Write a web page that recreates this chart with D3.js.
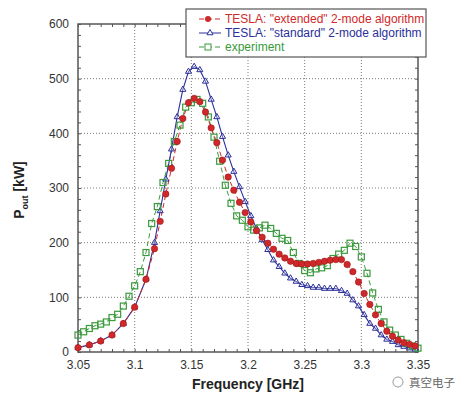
<!DOCTYPE html>
<head>
  <meta charset="utf-8" />
  <script src="https://d3js.org/d3.v7.min.js"></script>
  <style>
    body { margin: 0; background: #fff; }
    text { font-family: "Liberation Sans", Arial, sans-serif; }
  </style>
</head>
<body>
  <script>
    // data
    var extFreq = [3.05, 3.06, 3.07, 3.08, 3.09, 3.10, 3.11,
      3.1175, 3.1225, 3.1275, 3.1325, 3.1375, 3.1425, 3.1475, 3.1525, 3.1575, 3.1625,
      3.1675, 3.1725, 3.1775, 3.1825, 3.1875, 3.1925, 3.1975, 3.2025, 3.2075, 3.2125,
      3.2175, 3.2225, 3.2275, 3.2325, 3.2375, 3.2425, 3.2475, 3.2525, 3.2575, 3.2625,
      3.2675, 3.2725, 3.2775, 3.2825, 3.2875, 3.2925, 3.2975, 3.3025, 3.3075, 3.3125,
      3.3175, 3.3225, 3.3275, 3.3325, 3.3375, 3.3425, 3.3475];
    var extended = [8, 13, 20, 31, 52, 82, 133,
      189, 239, 289, 336, 385, 427, 456, 464, 458, 439,
      410, 383, 351, 320, 296, 274, 255, 238, 222, 210,
      199, 188, 179, 172, 166, 162, 161, 161, 162, 164,
      166, 168, 169, 169, 160, 147, 128, 107, 87, 68,
      52, 38, 29, 22, 17, 14, 11];
    var standard = [8, 13, 20, 31, 52, 82, 133,
      200, 258, 316, 371, 430, 480, 513, 522, 516, 495,
      462, 430, 394, 360, 330, 302, 275, 249, 226, 205,
      187, 168, 156, 144, 135, 129, 123, 121, 118, 118,
      116, 116, 116, 112, 107, 95, 84, 68, 52, 43,
      31, 23, 19, 13, 10, 7, 5];
    var expFreq = [3.050, 3.055, 3.060, 3.065, 3.070, 3.075, 3.080, 3.085, 3.090, 3.095,
      3.100, 3.105, 3.110, 3.115, 3.120, 3.125, 3.130, 3.135, 3.140, 3.145,
      3.150, 3.155, 3.160, 3.165, 3.170, 3.175, 3.180, 3.185, 3.190, 3.195,
      3.200, 3.205, 3.210, 3.215, 3.220, 3.225, 3.230, 3.235, 3.240, 3.245,
      3.250, 3.255, 3.260, 3.265, 3.270, 3.275, 3.280, 3.285, 3.290, 3.295,
      3.300, 3.305, 3.310, 3.315, 3.320, 3.325, 3.330, 3.335, 3.340, 3.345, 3.350];
    var experiment = [31, 37, 43, 48, 51, 55, 63, 69, 84, 102,
      121, 147, 182, 235, 266, 310, 345, 385, 415, 448,
      456, 462, 455, 430, 393, 349, 305, 272, 249, 241,
      229, 223, 227, 232, 226, 217, 208, 204, 182, 162,
      149, 145, 152, 154, 158, 171, 179, 186, 199, 193,
      174, 144, 108, 78, 55, 40, 31, 23, 16, 11, 7];
    var xTicks = [3.05, 3.1, 3.15, 3.2, 3.25, 3.3, 3.35];
    var yTicks = [0, 100, 200, 300, 400, 500, 600];
    var legendLabels = ['TESLA: "extended" 2-mode algorithm', 'TESLA: "standard" 2-mode algorithm', 'experiment'];

    var width = 469, height = 396;
    var pL = 78, pR = 418, pT = 24, pB = 352;
    var red = "#d0282a", blue = "#2b2f9a", green = "#3a9a3c";

    var svg = d3.select("body").append("svg").attr("width", width).attr("height", height);

    var x = d3.scaleLinear().domain([3.05, 3.35]).range([pL, pR]);
    var y = d3.scaleLinear().domain([0, 600]).range([pB, pT]);

    // grid
    var grid = svg.append("g").attr("stroke", "#7a7a7a").attr("stroke-width", 1).attr("stroke-dasharray", "1,2");
    grid.selectAll(".gx").data(xTicks.slice(1, -1)).join("line")
      .attr("x1", d => x(d)).attr("x2", d => x(d)).attr("y1", pT).attr("y2", pB);
    grid.selectAll(".gy").data(yTicks.slice(1, -1)).join("line")
      .attr("y1", d => y(d)).attr("y2", d => y(d)).attr("x1", pL).attr("x2", pR);

    // minor ticks pointing inward on all four sides
    var minorX = d3.range(3.05, 3.3501, 0.01);
    var minorY = d3.range(0, 601, 20);
    svg.append("g").attr("transform", "translate(0," + pB + ")")
      .call(d3.axisBottom(x).tickValues(minorX).tickSize(-3).tickFormat(""))
      .call(g => g.select(".domain").remove());
    svg.append("g").attr("transform", "translate(0," + pT + ")")
      .call(d3.axisTop(x).tickValues(minorX).tickSize(-3).tickFormat(""))
      .call(g => g.select(".domain").remove());
    svg.append("g").attr("transform", "translate(" + pL + ",0)")
      .call(d3.axisLeft(y).tickValues(minorY).tickSize(-3).tickFormat(""))
      .call(g => g.select(".domain").remove());
    svg.append("g").attr("transform", "translate(" + pR + ",0)")
      .call(d3.axisRight(y).tickValues(minorY).tickSize(-3).tickFormat(""))
      .call(g => g.select(".domain").remove());
    svg.selectAll(".tick line").attr("stroke", "#555");

    var xAxis = svg.append("g").attr("transform", "translate(0," + pB + ")")
      .call(d3.axisBottom(x).tickValues(xTicks).tickSize(0).tickPadding(8).tickFormat(d3.format("")));
    xAxis.select(".domain").remove();
    xAxis.selectAll("text").attr("font-size", 12).attr("fill", "#333")
      .style("font-family", "'Liberation Sans', Arial, sans-serif");

    var yAxis = svg.append("g").attr("transform", "translate(" + pL + ",0)")
      .call(d3.axisLeft(y).tickValues(yTicks).tickSize(0).tickPadding(9));
    yAxis.select(".domain").remove();
    yAxis.selectAll("text").attr("font-size", 12).attr("fill", "#333")
      .style("font-family", "'Liberation Sans', Arial, sans-serif");

    // frame
    svg.append("rect").attr("x", pL).attr("y", pT).attr("width", pR - pL).attr("height", pB - pT)
      .attr("fill", "none").attr("stroke", "#555").attr("stroke-width", 1.5);

    var line = d3.line().x(d => x(d[0])).y(d => y(d[1]));
    var extPts = extFreq.map((f, i) => [f, extended[i]]);
    var stdPts = extFreq.map((f, i) => [f, standard[i]]);
    var expPts = expFreq.map((f, i) => [f, experiment[i]]);

    // experiment (green dashed, open squares)
    svg.append("path").datum(expPts).attr("d", line).attr("fill", "none")
      .attr("stroke", green).attr("stroke-width", 1).attr("stroke-dasharray", "5,3");
    // standard (blue solid)
    svg.append("path").datum(stdPts).attr("d", line).attr("fill", "none")
      .attr("stroke", blue).attr("stroke-width", 1.1);
    // extended (red dashed)
    svg.append("path").datum(extPts).attr("d", line).attr("fill", "none")
      .attr("stroke", red).attr("stroke-width", 1).attr("stroke-dasharray", "5,3");

    var tri = d3.symbol().type(d3.symbolTriangle).size(16);
    svg.append("g").selectAll("path").data(stdPts).join("path")
      .attr("transform", d => "translate(" + x(d[0]) + "," + y(d[1]) + ")")
      .attr("d", tri).attr("fill", "#fff").attr("fill-opacity", 0.3).attr("stroke", blue).attr("stroke-width", 1);

    svg.append("g").selectAll("rect").data(expPts).join("rect")
      .attr("x", d => x(d[0]) - 3).attr("y", d => y(d[1]) - 3)
      .attr("width", 6).attr("height", 6)
      .attr("fill", "none").attr("stroke", green).attr("stroke-width", 1.2);

    svg.append("g").selectAll("circle").data(extPts).join("circle")
      .attr("cx", d => x(d[0])).attr("cy", d => y(d[1])).attr("r", 3.2)
      .attr("fill", red).attr("stroke", "#a01818").attr("stroke-width", 0.6);

    // legend
    var lg = svg.append("g");
    lg.append("rect").attr("x", 186).attr("y", 9).attr("width", 240).attr("height", 48)
      .attr("fill", "#fff").attr("stroke", "#555").attr("stroke-width", 1.2);
    var colors = [red, blue, green];
    legendLabels.forEach(function (lab, i) {
      var ly = 19 + i * 14;
      lg.append("line").attr("x1", 199).attr("x2", 221).attr("y1", ly).attr("y2", ly)
        .attr("stroke", colors[i]).attr("stroke-width", 1)
        .attr("stroke-dasharray", i == 1 ? null : "5,3");
      if (i == 0) {
        lg.append("circle").attr("cx", 208).attr("cy", ly).attr("r", 3).attr("fill", red);
      } else if (i == 1) {
        lg.append("path").attr("transform", "translate(210," + ly + ")").attr("d", tri)
          .attr("fill", "#fff").attr("stroke", blue);
      } else {
        lg.append("rect").attr("x", 205).attr("y", ly - 3).attr("width", 6).attr("height", 6)
          .attr("fill", "#fff").attr("stroke", green);
      }
      lg.append("text").attr("x", 225).attr("y", ly + 4).attr("font-size", 12)
        .attr("fill", colors[i]).text(lab);
    });

    // axis titles
    svg.append("text").attr("x", 248).attr("y", 389).attr("text-anchor", "middle")
      .attr("font-size", 14).attr("font-weight", "bold").attr("fill", "#222").text("Frequency [GHz]");
    var yl = svg.append("text").attr("transform", "translate(24,190) rotate(-90)")
      .attr("text-anchor", "middle").attr("font-size", 14).attr("font-weight", "bold").attr("fill", "#222");
    yl.append("tspan").text("P");
    yl.append("tspan").attr("font-size", 9).attr("dy", 4).text("out");
    yl.append("tspan").attr("dy", -4).text(" [kW]");

    // watermark
    svg.append("text").attr("x", 409).attr("y", 387).attr("font-size", 11.5)
      .attr("fill", "#666").style("font-family", "'Noto Sans CJK SC', sans-serif").text("真空电子");
    svg.append("circle").attr("cx", 398).attr("cy", 382).attr("r", 5)
      .attr("fill", "none").attr("stroke", "#999").attr("stroke-width", 1);
  </script>
</body>
